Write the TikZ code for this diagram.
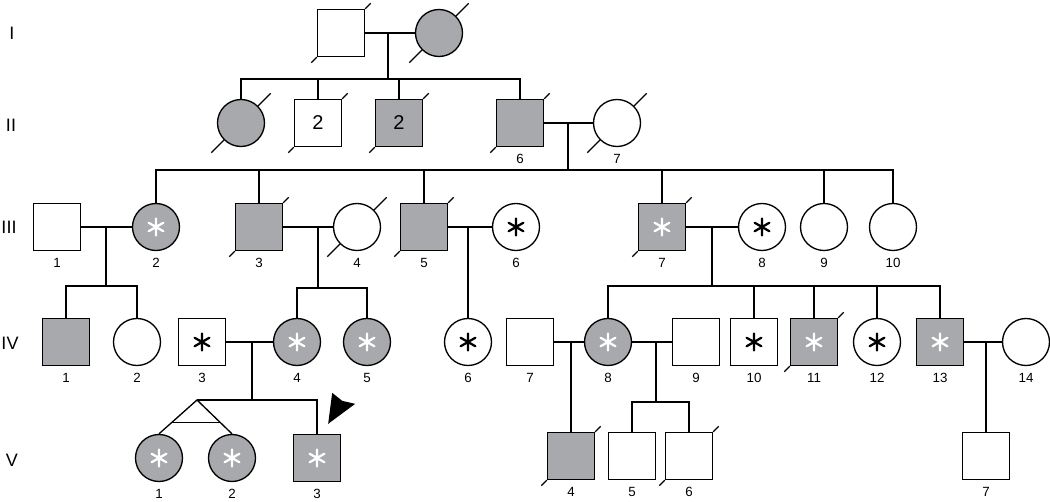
\documentclass[tikz,border=0pt]{standalone}
\usepackage{fontspec}
\setmainfont{Liberation Sans}
\usetikzlibrary{calc}
\definecolor{affgray}{RGB}{167, 169, 172}

\begin{document}
\begin{tikzpicture}[x=0.75pt, y=0.75pt, line width=1pt,
  sq/.style={draw, rectangle, fill=white, minimum size=35.25pt, inner sep=0pt},
  ci/.style={draw, circle, fill=white, minimum size=35.25pt, inner sep=0pt},
  aff/.style={fill=affgray},
  dead/.style={append after command={
    (\tikzlastnode.45) edge ($(\tikzlastnode.center)+(45:42)$)
    (\tikzlastnode.225) edge ($(\tikzlastnode.center)+(225:42)$)}},
  astr/.style={path picture={
    \draw[#1, line width=1.7pt, line cap=round]
      (path picture bounding box.center) ++(90:8.5) -- ++(270:17)
      (path picture bounding box.center) ++(30:8.5) -- ++(210:17)
      (path picture bounding box.center) ++(150:8.5) -- ++(330:17);}},
  gen/.style={font=\fontsize{13.5}{16}\selectfont},
  every label/.style={font=\fontsize{10}{12}\selectfont, inner sep=0pt},
  label distance=5pt
]
  \useasboundingbox (0,0) rectangle (1050,-502);

  % generation labels
  \node[gen] (gI) at (12,-33) {I};
  \node[gen] (gII) at (11,-125) {II};
  \node[gen] (gIII) at (9,-227) {III};
  \node[gen] (gIV) at (10,-343) {IV};
  \node[gen] (gV) at (12,-460) {V};

  % I
  \node[sq, dead] (i1) at (341,-33) {};
  \node[ci, aff, dead] (i2) at (439,-33) {};

  % II
  \node[ci, aff, dead] (ii1) at (241,-123) {};
  \node[sq, dead, font=\fontsize{15}{18}\selectfont] (ii2) at (318,-123) {2};
  \node[sq, aff, dead, font=\fontsize{15}{18}\selectfont] (ii3) at (399,-123) {2};
  \node[sq, aff, dead, label=below:6] (ii6) at (520,-123) {};
  \node[ci, dead, label=below:7] (ii7) at (617,-123) {};

  % III
  \node[sq, label=below:1] (iii1) at (57,-227) {};
  \node[ci, aff, astr=white, label=below:2] (iii2) at (156,-227) {};
  \node[sq, aff, dead, label=below:3] (iii3) at (259,-227) {};
  \node[ci, dead, label=below:4] (iii4) at (357,-227) {};
  \node[sq, aff, dead, label=below:5] (iii5) at (424,-227) {};
  \node[ci, astr=black, label=below:6] (iii6) at (516,-227) {};
  \node[sq, aff, dead, astr=white, label=below:7] (iii7) at (662,-227) {};
  \node[ci, astr=black, label=below:8] (iii8) at (762,-227) {};
  \node[ci, label=below:9] (iii9) at (824,-227) {};
  \node[ci, label=below:10] (iii10) at (893,-227) {};

  % IV
  \node[sq, aff, label=below:1] (iv1) at (66,-342) {};
  \node[ci, label=below:2] (iv2) at (137,-342) {};
  \node[sq, astr=black, label=below:3] (iv3) at (202,-342) {};
  \node[ci, aff, astr=white, label=below:4] (iv4) at (297,-342) {};
  \node[ci, aff, astr=white, label=below:5] (iv5) at (367,-342) {};
  \node[ci, astr=black, label=below:6] (iv6) at (468,-342) {};
  \node[sq, label=below:7] (iv7) at (530,-342) {};
  \node[ci, aff, astr=white, label=below:8] (iv8) at (608,-342) {};
  \node[sq, label=below:9] (iv9) at (696,-342) {};
  \node[sq, astr=black, label=below:10] (iv10) at (754,-342) {};
  \node[sq, aff, dead, astr=white, label=below:11] (iv11) at (814,-342) {};
  \node[ci, astr=black, label=below:12] (iv12) at (877,-342) {};
  \node[sq, aff, astr=white, label=below:13] (iv13) at (940,-342) {};
  \node[ci, label=below:14] (iv14) at (1026,-342) {};

  % V
  \node[ci, aff, astr=white, label=below:1] (v1) at (159,-458) {};
  \node[ci, aff, astr=white, label=below:2] (v2) at (232,-458) {};
  \node[sq, aff, astr=white, label=below:3] (v3) at (317,-458) {};
  \node[sq, aff, dead, label=below:4] (v4) at (571,-456) {};
  \node[sq, label=below:5] (v5) at (632,-456) {};
  \node[sq, dead, label=below:6] (v6) at (689,-456) {};
  \node[sq, label=below:7] (v7) at (986,-456) {};

  % I -> II
  \draw (i1) -- (i2);
  \coordinate (mI) at (388,-33);
  \coordinate (sI) at (388,-79);
  \draw (mI) -- (sI);
  \draw (ii1.north) |- (sI) -| (ii6.north);
  \draw (ii2.north) -- (ii2.north |- sI);
  \draw (ii3.north) -- (ii3.north |- sI);

  % II -> III
  \draw (ii6) -- (ii7);
  \coordinate (mII) at (568,-123);
  \coordinate (sII) at (568,-170);
  \draw (mII) -- (sII);
  \draw (iii2.north) |- (sII) -| (iii10.north);
  \foreach \n in {iii3, iii5, iii7, iii9}
    \draw (\n.north) -- (\n.north |- sII);

  % III -> IV
  \draw (iii1) -- (iii2);
  \coordinate (m31) at (106,-227);
  \coordinate (s31) at (106,-286);
  \draw (m31) -- (s31);
  \draw (iv1.north) |- (s31) -| (iv2.north);

  \draw (iii3) -- (iii4);
  \coordinate (m33) at (318,-227);
  \coordinate (s33) at (318,-288);
  \draw (m33) -- (s33);
  \draw (iv4.north) |- (s33) -| (iv5.north);

  \draw (iii5) -- (iii6);
  \coordinate (m35) at (468,-227);
  \draw (m35) -- (iv6.north);

  \draw (iii7) -- (iii8);
  \coordinate (m37) at (712,-227);
  \coordinate (s37) at (712,-286);
  \draw (m37) -- (s37);
  \draw (iv8.north) |- (s37) -| (iv13.north);
  \foreach \n in {iv10, iv11, iv12}
    \draw (\n.north) -- (\n.north |- s37);

  % IV -> V
  \draw (iv3) -- (iv4);
  \coordinate (m43) at (252,-342);
  \coordinate (s43) at (252,-400);
  \coordinate (tw) at (197,-400);
  \draw (m43) -- (s43);
  \draw (tw) -| (v3.north);
  \draw (v1.north) -- (tw) -- (v2.north);
  \draw ($(tw)!0.66!(v1.north)$) -- ($(tw)!0.66!(v2.north)$);

  \draw (iv7) -- (iv8);
  \coordinate (m47) at (571,-342);
  \draw (m47) -- (v4.north);

  \draw (iv8) -- (iv9);
  \coordinate (m48) at (656,-342);
  \coordinate (s48) at (656,-402);
  \draw (m48) -- (s48);
  \draw (v5.north) |- (s48) -| (v6.north);

  \draw (iv13) -- (iv14);
  \coordinate (m413) at (986,-342);
  \draw (m413) -- (v7.north);

  % proband
  \coordinate (tip) at ($(v3.north east)+(-13,10)$);
  \fill (tip) -- ++(4,31) -- ++(10,-8) -- ++(13,-3) -- cycle;
\end{tikzpicture}
\end{document}
